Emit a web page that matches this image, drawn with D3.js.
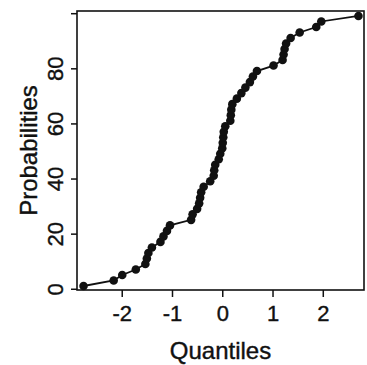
<!DOCTYPE html>
<html>
<head>
<meta charset="utf-8">
<script src="https://cdn.jsdelivr.net/npm/d3@7"></script>
<style>
  body { margin: 0; background: #fff; }
  svg { display: block; font-family: 'Liberation Sans', Arial, sans-serif; }
</style>
</head>
<body>
<div id="chart"></div>
<script>
// values
let quantiles = [-2.76, -2.16, -1.99, -1.72, -1.53, -1.50, -1.47, -1.40, -1.23, -1.17,
                 -1.10, -1.04, -0.62, -0.59, -0.50, -0.46, -0.44, -0.42, -0.37, -0.24,
                 -0.17, -0.16, -0.14, -0.07, -0.04, 0.00, 0.01, 0.02, 0.03, 0.06,
                 0.16, 0.17, 0.18, 0.20, 0.29, 0.38, 0.46, 0.55, 0.61, 0.69,
                 1.02, 1.20, 1.22, 1.24, 1.27, 1.36, 1.54, 1.87, 1.97, 2.71]
let probabilities = [1, 3, 5, 7, 9, 11, 13, 15, 17, 19,
                     21, 23, 25, 27, 29, 31, 33, 35, 37, 39,
                     41, 43, 45, 47, 49, 51, 53, 55, 57, 59,
                     61, 63, 65, 67, 69, 71, 73, 75, 77, 79,
                     81, 83, 85, 87, 89, 91, 93, 95, 97, 99]
let xTicks = [-2, -1, 0, 1, 2]
let yTicks = [0, 20, 40, 60, 80, 100]
let yLabels = ['0', '20', '40', '60', '80', '']

let width = 367
let height = 365
let margin = { top: 11, right: 3, bottom: 75, left: 77 }
let ink = '#111'

let svg = d3.select('#chart').append('svg')
  .attr('width', width)
  .attr('height', height)

let x = d3.scaleLinear()
  .domain([-2.89, 2.82])
  .range([margin.left, width - margin.right])

let y = d3.scaleLinear()
  .domain([-0.45, 100.8])
  .range([height - margin.bottom, margin.top])

let points = quantiles.map((q, i) => ({ q: q, p: probabilities[i] }))

// x axis
let xAxis = svg.append('g')
  .attr('transform', 'translate(0,' + (height - margin.bottom) + ')')
  .call(d3.axisBottom(x).tickValues(xTicks).tickSize(7).tickPadding(8)
    .tickFormat(d => d < 0 ? '-' + Math.abs(d) : d))
xAxis.select('.domain').remove()
xAxis.selectAll('line').attr('stroke', ink).attr('stroke-width', 1.5)
xAxis.selectAll('text')
  .attr('font-size', 22)
  .attr('fill', ink)
  .attr('stroke', ink)
  .attr('stroke-width', 0.4)
  .attr('font-family', "'Liberation Sans', Arial, sans-serif")

// y axis, labels turned sideways
let yAxis = svg.append('g')
  .attr('transform', 'translate(' + margin.left + ',0)')
  .call(d3.axisLeft(y).tickValues(yTicks).tickSize(6)
    .tickFormat((d, i) => yLabels[i]))
yAxis.select('.domain').remove()
yAxis.selectAll('line').attr('stroke', ink).attr('stroke-width', 1.5)
yAxis.selectAll('text')
  .attr('font-size', 22)
  .attr('fill', ink)
  .attr('stroke', ink)
  .attr('stroke-width', 0.4)
  .attr('font-family', "'Liberation Sans', Arial, sans-serif")
  .attr('x', null).attr('dy', null)
  .attr('text-anchor', 'middle')
  .attr('transform', 'translate(-14,0) rotate(-90)')

// frame
svg.append('rect')
  .attr('x', margin.left)
  .attr('y', margin.top)
  .attr('width', width - margin.left - margin.right)
  .attr('height', height - margin.top - margin.bottom)
  .attr('fill', 'none')
  .attr('stroke', ink)
  .attr('stroke-width', 1.6)

let line = d3.line()
  .x(d => x(d.q))
  .y(d => y(d.p))

svg.append('path')
  .datum(points)
  .attr('d', line)
  .attr('fill', 'none')
  .attr('stroke', ink)
  .attr('stroke-width', 1.8)

svg.selectAll('circle.pt')
  .data(points)
  .enter()
  .append('circle')
  .attr('class', 'pt')
  .attr('cx', d => x(d.q))
  .attr('cy', d => y(d.p))
  .attr('r', 4.3)
  .attr('fill', ink)

svg.append('text')
  .attr('x', (margin.left + width - margin.right) / 2)
  .attr('y', 359)
  .attr('text-anchor', 'middle')
  .attr('font-size', 24)
  .attr('fill', ink)
  .attr('stroke', ink)
  .attr('stroke-width', 0.4)
  .text('Quantiles')

svg.append('text')
  .attr('transform', 'translate(37,' + ((margin.top + height - margin.bottom) / 2) + ') rotate(-90)')
  .attr('text-anchor', 'middle')
  .attr('font-size', 24)
  .attr('fill', ink)
  .attr('stroke', ink)
  .attr('stroke-width', 0.4)
  .text('Probabilities')
</script>
</body>
</html>
